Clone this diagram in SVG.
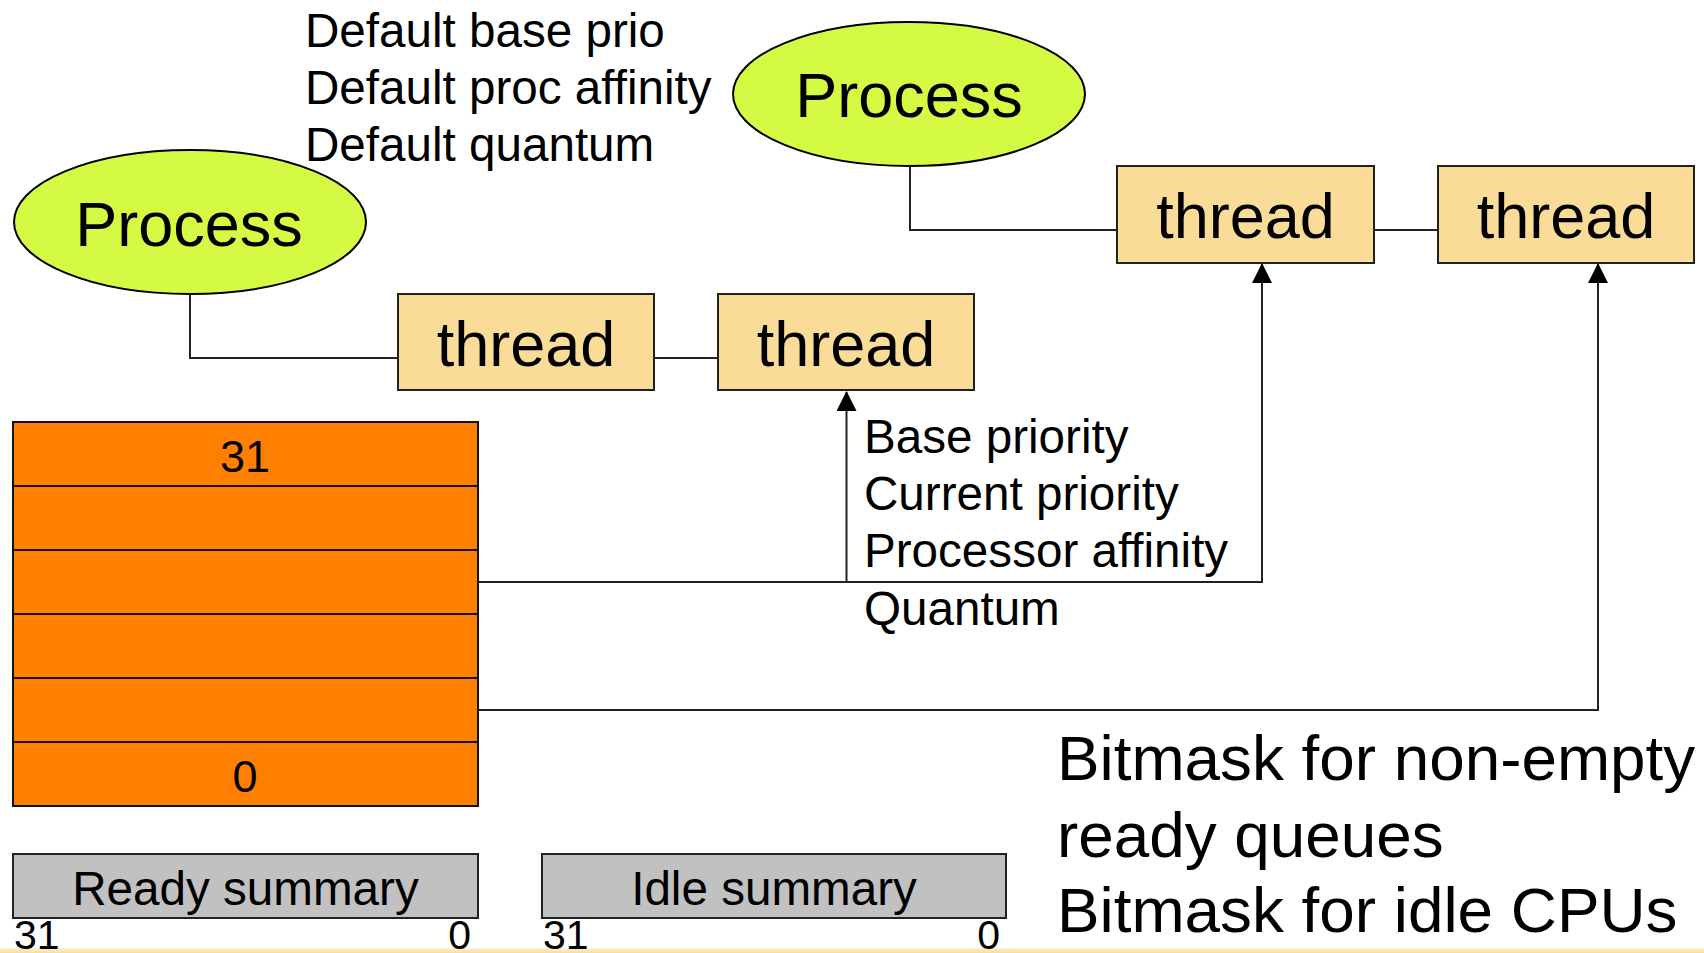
<svg xmlns="http://www.w3.org/2000/svg" width="1704" height="953" viewBox="0 0 1704 953">
<defs>
<marker id="arr" markerWidth="20" markerHeight="20" refX="19" refY="10" orient="auto" markerUnits="userSpaceOnUse">
<path d="M0,0 L20,10 L0,20 Z" fill="#000"/>
</marker>
<linearGradient id="foot" x1="0" y1="0" x2="0" y2="1">
<stop offset="0" stop-color="#fdf3d8"/>
<stop offset="1" stop-color="#f8dc98"/>
</linearGradient>
</defs>
<style>
text{font-family:"Liberation Sans",Arial,sans-serif;fill:#000}
.proc{fill:#d4fa44;stroke:#000;stroke-width:2}
.thr{fill:#f9dc98;stroke:#222;stroke-width:2}
.row{fill:#ff7f00;stroke:#111;stroke-width:2}
.sum{fill:#c0c1c0;stroke:#222;stroke-width:2}
.con{fill:none;stroke:#222;stroke-width:2}
.big{font-size:63px;text-anchor:middle}
.mid{font-size:47.6px}
.lbl{font-size:45px;text-anchor:middle}
.bit{font-size:41px}
.note{font-size:63.8px}
</style>
<rect width="1704" height="953" fill="#fff"/>
<rect x="0" y="948" width="1704" height="5" fill="url(#foot)"/>

<g id="connectors">
<polyline class="con" points="190,294 190,358 398,358"/>
<line class="con" x1="654" y1="358" x2="718" y2="358"/>
<polyline class="con" points="910,166 910,230 1117,230"/>
<line class="con" x1="1374" y1="230" x2="1438" y2="230"/>
<polyline class="con" points="478,582 1262,582 1262,264" marker-end="url(#arr)"/>
<line class="con" x1="846.5" y1="582" x2="846.5" y2="392" marker-end="url(#arr)"/>
<polyline class="con" points="478,710 1598,710 1598,264" marker-end="url(#arr)"/>
</g>

<g id="process1">
<ellipse class="proc" cx="190" cy="222" rx="176" ry="72"/>
<text class="big" x="189" y="246">Process</text>
</g>
<g id="process2">
<ellipse class="proc" cx="909" cy="94" rx="176" ry="72"/>
<text class="big" x="909" y="117">Process</text>
</g>
<g id="process-attrs">
<text class="mid" x="305" y="47">Default base prio</text>
<text class="mid" x="305" y="104">Default proc affinity</text>
<text class="mid" x="305" y="161">Default quantum</text>
</g>

<g id="thread1">
<rect class="thr" x="398" y="294" width="256" height="96"/>
<text class="big" x="526" y="366">thread</text>
</g>
<g id="thread2">
<rect class="thr" x="718" y="294" width="256" height="96"/>
<text class="big" x="846" y="366">thread</text>
</g>
<g id="thread3">
<rect class="thr" x="1117" y="166" width="257" height="97"/>
<text class="big" x="1245.5" y="238">thread</text>
</g>
<g id="thread4">
<rect class="thr" x="1438" y="166" width="256" height="97"/>
<text class="big" x="1566" y="238">thread</text>
</g>

<g id="thread-attrs">
<text class="mid" x="864" y="453">Base priority</text>
<text class="mid" x="864" y="510">Current priority</text>
<text class="mid" x="864" y="567">Processor affinity</text>
<text class="mid" x="864" y="625">Quantum</text>
</g>

<g id="ready-queues">
<rect class="row" x="13" y="422" width="465" height="64"/>
<rect class="row" x="13" y="486" width="465" height="64"/>
<rect class="row" x="13" y="550" width="465" height="64"/>
<rect class="row" x="13" y="614" width="465" height="64"/>
<rect class="row" x="13" y="678" width="465" height="64"/>
<rect class="row" x="13" y="742" width="465" height="64"/>
<text class="lbl" x="245" y="472">31</text>
<text class="lbl" x="245" y="792">0</text>
</g>

<g id="ready-summary">
<rect class="sum" x="13" y="854" width="465" height="64"/>
<text class="mid" x="245.5" y="905" text-anchor="middle">Ready summary</text>
<text class="bit" x="14" y="949">31</text>
<text class="bit" x="471" y="949" text-anchor="end">0</text>
</g>
<g id="idle-summary">
<rect class="sum" x="542" y="854" width="464" height="64"/>
<text class="mid" x="774" y="905" text-anchor="middle">Idle summary</text>
<text class="bit" x="543" y="949">31</text>
<text class="bit" x="1000" y="949" text-anchor="end">0</text>
</g>

<g id="bitmask-notes">
<text class="note" x="1057" y="780">Bitmask for non-empty</text>
<text class="note" x="1057" y="857">ready queues</text>
<text class="note" x="1057" y="932">Bitmask for idle CPUs</text>
</g>
</svg>
